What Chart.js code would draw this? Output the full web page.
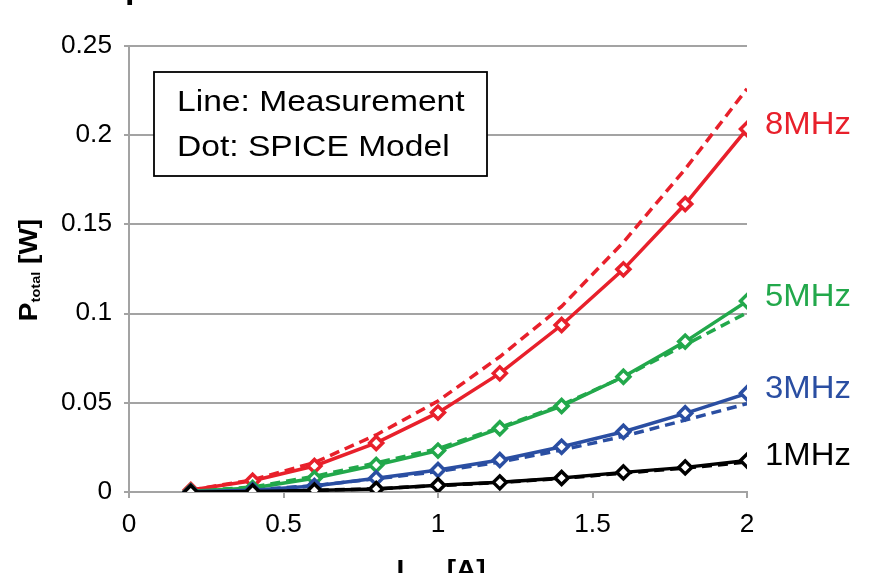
<!DOCTYPE html>
<html>
<head>
<meta charset="utf-8">
<script src="https://cdn.jsdelivr.net/npm/chart.js@4.4.1/dist/chart.umd.min.js"></script>
<style>
  html, body { margin: 0; padding: 0; background: #fff; }
  #wrap { width: 880px; height: 573px; overflow: hidden; }
</style>
</head>
<body>
<div id="wrap"><canvas id="graph-canvas" width="880" height="573"></canvas></div>
<script>
// connector current [A]
const currents = [0.2, 0.4, 0.6, 0.8, 1.0, 1.2, 1.4, 1.6, 1.8, 2.0];

// total power [W], measured (solid) and SPICE model (dashed)
const meas8MHz  = [0.0011, 0.0063, 0.0146, 0.0275, 0.0445, 0.0665, 0.0936, 0.1248, 0.1614, 0.2035];
const model8MHz = [0.0011, 0.0068, 0.0165, 0.0320, 0.0510, 0.0758, 0.1040, 0.1400, 0.1810, 0.2260];
const meas5MHz  = [0.0004, 0.0022, 0.0077, 0.0151, 0.0232, 0.0357, 0.0482, 0.0646, 0.0843, 0.1070];
const model5MHz = [0.0004, 0.0028, 0.0088, 0.0163, 0.0243, 0.0362, 0.0488, 0.0645, 0.0825, 0.1005];
const meas3MHz  = [0.0002, 0.0010, 0.0034, 0.0077, 0.0123, 0.0179, 0.0254, 0.0338, 0.0441, 0.0553];
const model3MHz = [0.0002, 0.0012, 0.0036, 0.0074, 0.0115, 0.0168, 0.0235, 0.0312, 0.0403, 0.0495];
const meas1MHz  = [0.0000, 0.0003, 0.0009, 0.0017, 0.0038, 0.0054, 0.0078, 0.0110, 0.0138, 0.0176];
const model1MHz = [0.0000, 0.0003, 0.0009, 0.0018, 0.0036, 0.0053, 0.0076, 0.0106, 0.0134, 0.0168];

const freqNames = ['8MHz', '5MHz', '3MHz', '1MHz'];
const xTickValues = [0, 0.5, 1, 1.5, 2];
const yTickValues = [0, 0.05, 0.1, 0.15, 0.2, 0.25];
const legendLines = ['Line: Measurement', 'Dot: SPICE Model'];

const RED = '#e8202b';
const GREEN = '#22a84b';
const BLUE = '#2a4ea2';
const BLACK = '#000000';
const GRID = '#a3a3a3';
const FONT = '"Liberation Sans", Arial, Helvetica, sans-serif';

const xy = (vals) => vals.map((v, i) => ({ x: currents[i], y: v }));

function measured(vals, color) {
  return {
    data: xy(vals),
    borderColor: color,
    borderWidth: 3.5,
    pointStyle: 'rectRot',
    pointRadius: 6.5,
    pointBorderWidth: 3.5,
    pointBackgroundColor: '#fff',
    pointBorderColor: color,
    tension: 0,
    order: 1
  };
}

function model(vals, color) {
  return {
    data: xy(vals),
    borderColor: color,
    borderWidth: 3.5,
    borderDash: [10, 6],
    pointRadius: 0,
    tension: 0,
    order: 2
  };
}

// text with a slight horizontal stretch
function wideText(ctx, text, x, y, font, color, align, sx) {
  ctx.save();
  ctx.font = font;
  ctx.fillStyle = color;
  ctx.textBaseline = 'middle';
  ctx.textAlign = 'left';
  const w = ctx.measureText(text).width * sx;
  const left = align === 'right' ? x - w : align === 'center' ? x - w / 2 : x;
  ctx.translate(left, y);
  ctx.scale(sx, 1);
  ctx.fillText(text, 0, 0);
  ctx.restore();
}

// main text + subscript + trailing text, drawn along the current x direction
function subscriptTitle(ctx, parts, sx) {
  const [main, sub, tail] = parts;
  ctx.font = 'bold 25px ' + FONT;
  const w1 = ctx.measureText(main).width;
  const w3 = ctx.measureText(tail).width;
  ctx.font = 'bold 13px ' + FONT;
  const w2 = ctx.measureText(sub).width;
  const total = (w1 + w2 + w3) * sx;
  ctx.scale(sx, 1);
  let x = -total / 2 / sx;
  ctx.textBaseline = 'alphabetic';
  ctx.font = 'bold 25px ' + FONT;
  ctx.fillText(main, x, 0);
  x += w1;
  ctx.font = 'bold 13px ' + FONT;
  ctx.fillText(sub, x, 3);
  x += w2;
  ctx.font = 'bold 25px ' + FONT;
  ctx.fillText(tail, x, 0);
}

const annotations = {
  id: 'annotations',
  afterDraw(chart) {
    const ctx = chart.ctx;
    const xs = chart.scales.x;
    const ys = chart.scales.y;

    // tick labels
    yTickValues.forEach(v => {
      wideText(ctx, String(v), 112, ys.getPixelForValue(v), '25px ' + FONT, '#000', 'right', 1.05);
    });
    xTickValues.forEach(v => {
      wideText(ctx, String(v), xs.getPixelForValue(v), 525, '25px ' + FONT, '#000', 'center', 1.05);
    });

    // axis titles
    ctx.save();
    ctx.fillStyle = '#000';
    ctx.translate(37, 270);
    ctx.rotate(-Math.PI / 2);
    subscriptTitle(ctx, ['P', 'total', ' [W]'], 1.12);
    ctx.restore();

    ctx.save();
    ctx.fillStyle = '#000';
    ctx.translate(441, 578);
    subscriptTitle(ctx, ['I', 'conn', ' [A]'], 1.12);
    ctx.restore();

    // fragment of the figure heading above the plot
    ctx.save();
    ctx.fillStyle = '#000';
    ctx.font = 'bold 34px ' + FONT;
    ctx.textBaseline = 'alphabetic';
    ctx.fillText('p', 125, -2);
    ctx.restore();

    // legend box
    ctx.save();
    ctx.fillStyle = '#fff';
    ctx.fillRect(154, 72, 333, 104);
    ctx.strokeStyle = '#000';
    ctx.lineWidth = 1.8;
    ctx.strokeRect(154, 72, 333, 104);
    ctx.restore();
    wideText(ctx, legendLines[0], 177, 103, '30px ' + FONT, '#000', 'left', 1.12);
    wideText(ctx, legendLines[1], 177, 148, '30px ' + FONT, '#000', 'left', 1.12);

    // frequency labels next to the last measured point
    const lastVals = [meas8MHz, meas5MHz, meas3MHz, meas1MHz].map(a => a[a.length - 1]);
    const colors = [RED, GREEN, BLUE, BLACK];
    const xEnd = xs.getPixelForValue(currents[currents.length - 1]);
    freqNames.forEach((name, i) => {
      wideText(ctx, name, xEnd + 18, ys.getPixelForValue(lastVals[i]) - 4,
        '31px ' + FONT, colors[i], 'left', 1.06);
    });
  }
};

const canvas = document.getElementById('graph-canvas');
const chart = new Chart(canvas.getContext('2d'), {
  type: 'line',
  data: {
    datasets: [
      model(model1MHz, BLACK),
      model(model3MHz, BLUE),
      model(model5MHz, GREEN),
      model(model8MHz, RED),
      measured(meas1MHz, BLACK),
      measured(meas3MHz, BLUE),
      measured(meas5MHz, GREEN),
      measured(meas8MHz, RED)
    ]
  },
  options: {
    responsive: false,
    animation: false,
    devicePixelRatio: 1,
    layout: { padding: { left: 0, top: 46, right: 133, bottom: 0 } },
    plugins: {
      legend: { display: false },
      tooltip: { enabled: false }
    },
    scales: {
      x: {
        type: 'linear',
        min: 0,
        max: 2,
        ticks: { display: false, stepSize: 0.5 },
        grid: { drawOnChartArea: false, drawTicks: true, tickLength: 6, color: GRID, lineWidth: 2 },
        border: { color: GRID, width: 2 },
        afterFit(scale) { scale.height = 81; }
      },
      y: {
        min: 0,
        max: 0.25,
        ticks: { display: false, stepSize: 0.05 },
        grid: { color: GRID, lineWidth: 2, drawTicks: true, tickLength: 5 },
        border: { color: GRID, width: 2 },
        afterFit(scale) { scale.width = 129; }
      }
    }
  },
  plugins: [annotations]
});
</script>
</body>
</html>
